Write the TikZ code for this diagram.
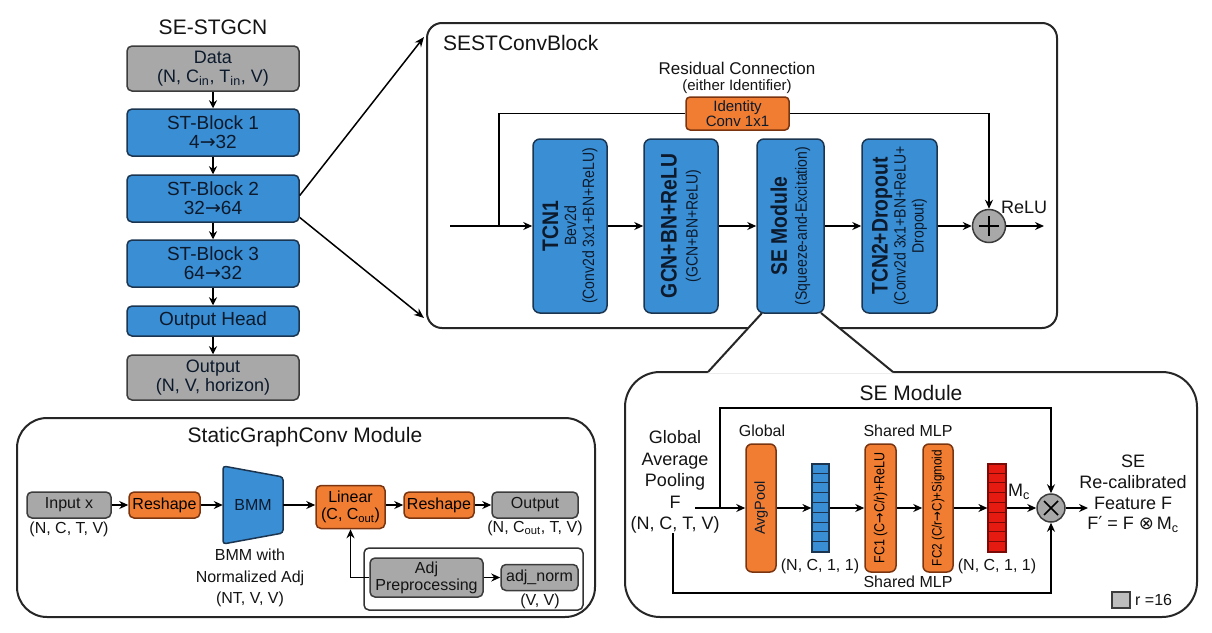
\documentclass[tikz,border=0pt]{standalone}
\usepackage{fontspec}
\setmainfont{Liberation Sans}
\newfontfamily\condf{Liberation Sans}[FakeStretch=0.86]
\newfontfamily\symf{DejaVu Sans}
\newfontfamily\symcf{DejaVu Sans}[FakeStretch=0.86]
\usetikzlibrary{arrows.meta,calc}
\definecolor{bfill}{HTML}{3A8ED4}
\definecolor{bdraw}{HTML}{1B3550}
\definecolor{ofill}{HTML}{F07D32}
\definecolor{odraw}{HTML}{7A3510}
\definecolor{gfill}{HTML}{A8A8A8}
\definecolor{gdraw}{HTML}{3C3C3C}
\definecolor{rfill}{HTML}{E51A10}
\definecolor{rdraw}{HTML}{7A0A05}
\definecolor{txt}{HTML}{141414}
\definecolor{btxt}{HTML}{0C1A2C}
\newcommand\fsz[1]{\fontsize{#1}{#1}\selectfont}
\newcommand\bigc{\fontsize{22.5}{22.5}\condf\bfseries}
\newcommand\ar{{\symf →}}
\newcommand\arc{{\symcf →}}
\tikzset{
 box/.style={rounded corners=5pt, line width=1.5pt, inner sep=1pt, align=center, text=btxt},
 bbox/.style={box, draw=bdraw, fill=bfill},
 obox/.style={box, draw=odraw, fill=ofill},
 gbox/.style={box, draw=gdraw, fill=gfill},
 frm/.style={draw=black!85, line width=2pt, fill=white},
 arr/.style={-{Stealth[length=9pt,width=8pt]}, line width=1.8pt},
 ln/.style={line width=1.8pt},
 lbl/.style={align=center, text=txt, inner sep=0pt},
 rot/.style={rotate=90, align=center, text=btxt, inner sep=0pt, font=\fontsize{16.3}{18}\condf},
}
\begin{document}
\begin{tikzpicture}[x=1pt,y=-1pt,font=\fontsize{16}{19}\selectfont]
\useasboundingbox[fill=white] (0,0) rectangle (1212,632);

% ---------------- left column
\node[lbl,font=\fsz{21}] (ttl) at (213,27) {SE-STGCN};
\node[gbox,minimum width=172pt,minimum height=45pt,font=\fontsize{18}{19}\selectfont] (data) at (213,68.5) {Data\\(N, C\textsubscript{in}, T\textsubscript{in}, V)};
\node[bbox,minimum width=172pt,minimum height=47pt,font=\fontsize{19}{19}\selectfont] (st1) at (213,132.5) {ST-Block 1\\4\ar32};
\node[bbox,minimum width=172pt,minimum height=47pt,font=\fontsize{19}{19}\selectfont] (st2) at (213,198.5) {ST-Block 2\\32\ar64};
\node[bbox,minimum width=172pt,minimum height=47pt,font=\fontsize{19}{19}\selectfont] (st3) at (213,263.5) {ST-Block 3\\64\ar32};
\node[bbox,minimum width=172pt,minimum height=30pt,font=\fsz{19}] (head) at (213,321) {Output Head};
\node[gbox,minimum width=172pt,minimum height=45pt,font=\fontsize{18}{19}\selectfont] (outp) at (213,377.5) {Output\\(N, V, horizon)};
\foreach \a/\b in {data/st1,st1/st2,st2/st3,st3/head,head/outp} \draw[arr,-{Stealth[length=8pt,width=8pt]}] (\a) -- (\b);

% ---------------- frames
\node[frm,rounded corners=15pt,minimum width=630pt,minimum height=305pt] (sest) at (742,175.5) {};
\node[frm,rounded corners=35pt,minimum width=572pt,minimum height=245pt] (seframe) at (911,494.5) {};
\node[frm,rounded corners=30pt,minimum width=578pt,minimum height=199pt] (sgc) at (306,517.5) {};
% callout
\fill[white] (762,312) -- (707.3,373.3) -- (893.7,373.3) -- (821,312) -- cycle;
\draw[line width=2pt,black!85] (762,313) -- (708,372);
\draw[line width=2pt,black!85] (821,313) -- (893,372);

% zoom arrows
\coordinate (a1) at (424,37);
\coordinate (a2) at (424,318);
\draw[line width=1.5pt,-{Stealth[length=10pt,width=8pt]}] ($(st2.east)+(0,-3)$) -- (a1);
\draw[line width=1.5pt,-{Stealth[length=10pt,width=8pt]}] ($(st2.east)+(0,19)$) -- (a2);

% ---------------- SESTConvBlock
\node[lbl,anchor=west,font=\fsz{21}] (sesttl) at (443,43) {SESTConvBlock};
\node[lbl,font=\fsz{17}] (rc) at (737,68) {Residual Connection};
\node[lbl,font=\fsz{15}] (rc2) at (737,87) {(either Identifier)};
\node[obox,minimum width=103pt,minimum height=33pt,font=\fontsize{15}{15}\selectfont,rounded corners=4pt] (idn) at (737.5,113.5) {Identity\\Conv 1x1};

\node[bbox,minimum width=74pt,minimum height=174pt,rounded corners=7pt] (tcn1) at (570,226) {};
\node[bbox,minimum width=74pt,minimum height=174pt,rounded corners=7pt] (gcn) at (681,226) {};
\node[bbox,minimum width=67pt,minimum height=174pt,rounded corners=7pt] (se) at (790.5,226) {};
\node[bbox,minimum width=75pt,minimum height=174pt,rounded corners=7pt] (tcn2) at (899.5,226) {};
\node[rot] (tcn1t) at (tcn1.center) {{\bigc TCN1}\\[0pt]Bev2d\\(Conv2d 3x1+BN+ReLU)};
\node[rot] (gcnt) at (gcn.center) {{\bigc GCN+BN+ReLU}\\[3pt](GCN+BN+ReLU)};
\node[rot] (set) at (se.center) {{\bigc SE Module}\\[2pt](Squeeze-and-Excitation)};
\node[rot] (tcn2t) at (tcn2.center) {{\bigc TCN2+Dropout}\\[0pt](Conv2d 3x1+BN+ReLU+\\Dropout)};

\node[circle,draw=gdraw,fill=gfill,line width=1.5pt,minimum size=33pt,inner sep=0pt] (plus) at (989,226) {};
\draw[line width=1.5pt,black] ($(plus.center)+(-10,0)$) -- ($(plus.center)+(10,0)$);
\draw[line width=1.5pt,black] ($(plus.center)+(0,-10)$) -- ($(plus.center)+(0,10)$);
\node[lbl,font=\fsz{18}] (relu) at (1024,207) {ReLU};

\coordinate (sin) at (450,226);
\coordinate (br) at (499,226);
\coordinate (sout) at (1044,226);
\draw[arr] (sin) -- (tcn1);
\draw[arr] (tcn1) -- (gcn);
\draw[arr] (gcn) -- (se);
\draw[arr] (se) -- (tcn2);
\draw[arr] (tcn2) -- (plus);
\draw[arr] (plus) -- (sout);
\draw[ln] (br) |- (idn.west);
\draw[arr] (idn.east) -| (plus.north);

% ---------------- SE Module
\node[lbl,font=\fsz{21}] (setl) at (911,393) {SE Module};
\node[lbl,font=\fontsize{18}{21.5}\selectfont] (gap) at (675,482) {Global\\Average\\Pooling\\F\\(N, C, T, V)};
\node[obox,minimum width=30pt,minimum height=128pt,rounded corners=6pt] (avg) at (761,508) {};
\node[rot,font=\fsz{14.5}] (avgt) at (avg.center) {AvgPool};
\node[bbox,rounded corners=0pt,line width=1.2pt,minimum width=17pt,minimum height=88pt,inner sep=0pt] (bvec) at (820.5,508) {};
\foreach \i in {1,...,8} \draw[bdraw,line width=1pt] ($(bvec.north west)+(0,\i*9.78)$) -- ++(17,0);
\node[obox,minimum width=31pt,minimum height=128pt,rounded corners=6pt] (fc1) at (880.5,508) {};
\node[rot,font=\fontsize{14.5}{15}\condf,text=black] (fc1t) at (fc1.center) {FC1 (C\arc C/r)+ReLU};
\node[obox,minimum width=30pt,minimum height=128pt,rounded corners=6pt] (fc2) at (938,508) {};
\node[rot,font=\fontsize{13.6}{15}\condf,text=black] (fc2t) at (fc2.center) {FC2 (C/r\arc C)+Sigmoid};
\node[draw=rdraw,fill=rfill,line width=1.2pt,minimum width=18pt,minimum height=88pt,inner sep=0pt] (rvec) at (997,508) {};
\foreach \i in {1,...,8} \draw[rdraw,line width=1pt] ($(rvec.north west)+(0,\i*9.78)$) -- ++(18,0);
\node[circle,draw=gdraw,fill=gfill,line width=1.5pt,minimum size=28pt,inner sep=0pt] (otm) at (1051,508) {};
\draw[line width=1.5pt,black] ($(otm.center)+(-7,-7)$) -- ($(otm.center)+(7,7)$);
\draw[line width=1.5pt,black] ($(otm.center)+(-7,7)$) -- ($(otm.center)+(7,-7)$);

\node[lbl,font=\fsz{16}] (glb) at (762,431) {Global};
\node[lbl,font=\fsz{16}] (smlp1) at (908,431) {Shared MLP};
\node[lbl,font=\fsz{16}] (smlp2) at (908,582) {Shared MLP};
\node[lbl,font=\fsz{16}] (nc1) at (820,566) {(N, C, 1, 1)};
\node[lbl,font=\fsz{16}] (nc2) at (997,566) {(N, C, 1, 1)};
\node[lbl,font=\fsz{18}] (mc) at (1019,492) {M\textsubscript{c}};
\node[lbl,font=\fontsize{18}{20.7}\selectfont] (recal) at (1133,494) {SE\\Re-calibrated\\Feature F\\F{\symf ′} = F {\symf ⊗}\,M\textsubscript{c}};
\node[draw=gdraw,fill=gfill!75!white,line width=1.2pt,minimum width=18pt,minimum height=16pt,inner sep=0pt] (leg) at (1121,600) {};
\node[lbl,anchor=west,font=\fsz{16}] (legt) at (1135,600) {r =16};

\coordinate (fst) at (695,508);
\coordinate (sk1) at (720,508);
\coordinate (sktop) at (720,408);
\coordinate (sb1) at (673,533);
\coordinate (sb2) at (673,593);
\coordinate (seout) at (1088,508);
\draw[arr] (fst) -- (avg);
\draw[arr] (avg) -- (bvec);
\draw[arr] (bvec) -- (fc1);
\draw[arr] (fc1) -- (fc2);
\draw[arr] (fc2) -- (rvec);
\draw[arr] (rvec) -- (otm);
\draw[arr] (otm) -- (seout);
\draw[arr] (sk1) -- (sktop) -| (otm.north);
\draw[arr] (sb1) -- (sb2) -| (otm.south);

% ---------------- StaticGraphConv
\node[lbl,font=\fsz{21}] (sgct) at (305,437) {StaticGraphConv Module};
\node[gbox,minimum width=84pt,minimum height=26pt,text=txt] (inx) at (69,505) {Input x};
\node[lbl,font=\fsz{16}] (inxd) at (69,529) {(N, C, T, V)};
\node[obox,minimum width=71pt,minimum height=26pt,text=black] (rs1) at (164.5,505) {Reshape};
\draw[draw=bdraw,fill=bfill,line width=1.5pt,rounded corners=3pt] (223,466) -- (283,477) -- (283,533) -- (223,544) -- cycle;
\node[lbl,text=btxt,minimum width=60pt] (bmm) at (253,505) {BMM};
\node[lbl,font=\fontsize{16}{21.5}\selectfont] (bmmd) at (250,578) {BMM with\\Normalized Adj\\(NT, V, V)};
\node[obox,minimum width=69pt,minimum height=43pt,text=black,font=\fontsize{16}{17}\selectfont] (lin) at (350.5,507) {Linear\\(C, C\textsubscript{out})};
\node[obox,minimum width=70pt,minimum height=26pt,text=black] (rs2) at (439,505) {Reshape};
\node[gbox,minimum width=86pt,minimum height=26pt,text=txt] (outn) at (535,505) {Output};
\node[lbl,font=\fsz{16}] (outd) at (535,528) {(N, C\textsubscript{out}, T, V)};
\node[draw=black!80,fill=white,line width=1.5pt,rounded corners=5pt,minimum width=219pt,minimum height=62pt] (subf) at (473.5,579) {};
\node[gbox,minimum width=113pt,minimum height=39pt,text=txt,font=\fontsize{16}{17}\selectfont] (adj) at (426.5,577.5) {Adj\\Preprocessing};
\node[gbox,minimum width=77pt,minimum height=26pt,text=txt] (adjn) at (539.5,577.5) {adj\_norm};
\node[lbl,font=\fsz{16}] (vv) at (540,601) {(V, V)};
\draw[arr] (inx) -- (rs1);
\draw[arr] (rs1) -- (bmm.west);
\draw[arr] (bmm.east) -- (lin.west |- bmm.east);
\draw[arr] (lin.east |- rs2.west) -- (rs2);
\draw[arr] (rs2) -- (outn);
\draw[arr] (adj) -- (adjn);
\draw[arr] (adj.west) -| (lin.south);
\end{tikzpicture}
\end{document}
